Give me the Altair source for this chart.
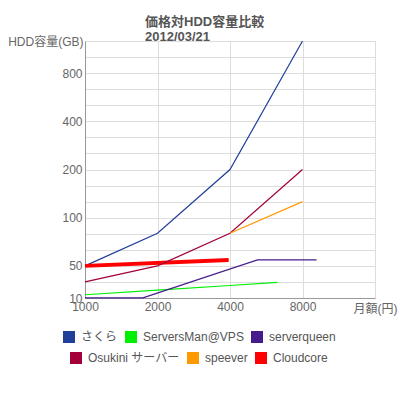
import altair as alt
import pandas as pd

FONT = "Liberation Sans, Noto Sans CJK JP, sans-serif"

# ---- data ----
names_a = ["さくら", "ServersMan@VPS", "serverqueen"]
names_b = ["Osukini サーバー", "speever", "Cloudcore"]
colors_a = ["#203f98", "#00f000", "#461c8c"]
colors_b = ["#a3003a", "#ff9900", "#ff0000"]
thick_series = ["Cloudcore"]

sakura_x = [1000, 2000, 4000, 8000]
sakura_y = [50, 80, 200, 1270]
serversman_x = [1000, 2000, 4000, 6300]
serversman_y = [33, 35.3, 37.7, 39.4]
serverqueen_x = [1000, 1740, 5200, 9150]
serverqueen_y = [31.6, 31.6, 54.5, 54.5]
osukini_x = [1000, 2000, 4000, 8000]
osukini_y = [39.7, 50, 80, 200]
speever_x = [4000, 8000]
speever_y = [80, 126]
cloudcore_x = [1000, 3950]
cloudcore_y = [50, 54.5]

x_grid = [1000, 2000, 4000, 8000, 16000]
x_labels = ["1000", "2000", "4000", "8000", ""]

y_bottom = 50 * 2 ** (-2 / 3)
y_grid = [y_bottom * 2 ** (k / 3) for k in range(17)]
y_label_values = [y_bottom, 50, 100, 200, 400, 800]
y_label_texts = ["10", "50", "100", "200", "400", "800"]

series = [
    (names_a[0], sakura_x, sakura_y),
    (names_a[1], serversman_x, serversman_y),
    (names_a[2], serverqueen_x, serverqueen_y),
    (names_b[0], osukini_x, osukini_y),
    (names_b[1], speever_x, speever_y),
    (names_b[2], cloudcore_x, cloudcore_y),
]
rows = []
for name, xs, ys in series:
    for i, (xv, yv) in enumerate(zip(xs, ys)):
        rows.append({"series": name, "price": xv, "hdd": yv, "idx": i})
df = pd.DataFrame(rows)

# label expressions
x_expr = ""
for v, t in zip(x_grid, x_labels):
    x_expr += f"abs(datum.value - {v}) < 1 ? '{t}' : "
x_expr += "''"
y_expr = ""
for v, t in zip(y_label_values, y_label_texts):
    y_expr += f"abs(datum.value / {v} - 1) < 0.01 ? '{t}' : "
y_expr += "''"

x_enc = alt.X(
    "price:Q",
    scale=alt.Scale(type="log", base=2, domain=[x_grid[0], x_grid[-1]]),
    axis=alt.Axis(
        values=x_grid, labelExpr=x_expr, grid=True, gridColor="#dddddd",
        domainColor="#999999", ticks=False, labelColor="#666666",
        labelFontSize=12, labelPadding=3, labelFont=FONT, labelFlush=False,
        title="月額(円)", titleFont=FONT, titleFontSize=12,
        titleFontWeight="normal", titleColor="#666666",
        titleX=290, titleY=10, titleAlign="center", titleBaseline="middle",
    ),
)
y_enc = alt.Y(
    "hdd:Q",
    scale=alt.Scale(type="log", base=2, domain=[y_grid[0], y_grid[-1]]),
    axis=alt.Axis(
        values=y_grid, labelExpr=y_expr, grid=True, gridColor="#dddddd",
        domainColor="#999999", ticks=False, labelColor="#666666",
        labelFontSize=12, labelPadding=3, labelFont=FONT, labelFlush=False,
        title="HDD容量(GB)", titleFont=FONT, titleFontSize=12,
        titleFontWeight="normal", titleColor="#666666", titleAngle=0,
        titleX=-2, titleY=0, titleAlign="right", titleBaseline="middle",
    ),
)

def legend(x, y):
    return alt.Legend(
        title=None, orient="none", legendX=x, legendY=y, direction="horizontal",
        symbolType="square", symbolSize=36, symbolStrokeWidth=6,
        symbolOpacity=1, labelFont=FONT, labelFontSize=12,
        labelColor="#555555", labelOffset=6, columnPadding=-2, padding=0,
        symbolLimit=0,
    )

color_a = alt.Color("series:N", scale=alt.Scale(domain=names_a, range=colors_a),
                    legend=legend(-22, 290))
color_b = alt.Color("series:N", scale=alt.Scale(domain=names_b, range=colors_b),
                    legend=legend(-15, 311))

layer_a = alt.Chart(df).transform_filter(
    alt.FieldOneOfPredicate(field="series", oneOf=names_a)
).mark_line(strokeWidth=1.2).encode(x=x_enc, y=y_enc, order="idx:Q", color=color_a)

thin_b = [n for n in names_b if n not in thick_series]
layer_b_thin = alt.Chart(df).transform_filter(
    alt.FieldOneOfPredicate(field="series", oneOf=thin_b)
).mark_line(strokeWidth=1.2).encode(x=x_enc, y=y_enc, order="idx:Q", color=color_b)
layer_b_thick = alt.Chart(df).transform_filter(
    alt.FieldOneOfPredicate(field="series", oneOf=thick_series)
).mark_line(strokeWidth=4).encode(x=x_enc, y=y_enc, order="idx:Q", color=color_b)

layer_b = alt.layer(layer_b_thick, layer_b_thin)

chart = alt.layer(layer_a, layer_b).resolve_scale(color="independent").properties(
    width=290, height=257,
    autosize=alt.AutoSizeParams(type="none"),
    padding={"left": 85, "top": 41, "right": 25, "bottom": 102},
    title=alt.Title(
        ["価格対HDD容量比較", "2012/03/21"], anchor="start", frame="group", dx=60,
        fontSize=13, font=FONT, fontWeight="bold", color="#555555",
        lineHeight=15, offset=-22, baseline="bottom",
    ),
).configure_view(stroke=None).configure(background="white")

chart.save("out.html", embed_options={"renderer": "svg", "actions": False})
